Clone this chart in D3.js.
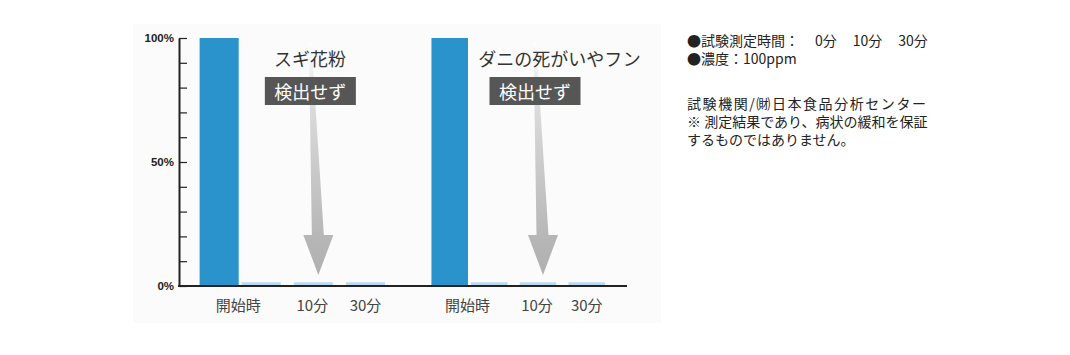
<!DOCTYPE html>
<html><head><meta charset="utf-8">
<script src="https://cdn.jsdelivr.net/npm/d3@7"></script>
<style>
html,body{margin:0;padding:0;background:#fff;}
svg{display:block;}
text{font-family:"Noto Sans CJK JP","Noto Sans",sans-serif;}
</style></head>
<body>
<script>
// ---- data ----
const groups = ["スギ花粉", "ダニの死がいやフン"];
const times = ["開始時", "10分", "30分"];
const startValues = [100, 100];                 // dark bar at start (before treatment)
const treatedValues = [[1.5, 1.5, 1.5], [1.5, 1.5, 1.5]]; // light bars at 0 / 10 / 30 min
const yTickValues = [0, 10, 20, 30, 40, 50, 60, 70, 80, 90, 100];
const yLabelValues = [0, 50, 100];
const badgeText = "検出せず";
const testTimes = ["0分", "10分", "30分"];
const noteHead1 = "●試験測定時間：";
const noteHead2 = "●濃度：100ppm";
const noteLines = ["試験機関/㈶日本食品分析センター", "※ 測定結果であり、病状の緩和を保証", "するものではありません。"];

// ---- layout ----
const W = 1070, H = 355;
const svg = d3.select("body").append("svg").attr("width", W).attr("height", H);

svg.append("rect").attr("x", 133).attr("y", 24).attr("width", 528).attr("height", 299).attr("fill", "#fbfbfb");

const y = d3.scaleLinear().domain([0, 100]).range([286, 38]);
const axisX = 179, axisRight = 627;
const groupRanges = [[241.7, 385], [471, 605]];
const titleDx = [-3.4, 21.5];
const darkColor = "#2a93cb", lightColor = "#b9daee";

const defs = svg.append("defs");
const grad = defs.append("linearGradient").attr("id", "arrowGrad")
  .attr("gradientUnits", "userSpaceOnUse").attr("x1", 0).attr("y1", 40).attr("x2", 0).attr("y2", 275);
grad.append("stop").attr("offset", 0).attr("stop-color", "#ffffff");
grad.append("stop").attr("offset", 0.3).attr("stop-color", "#dadada");
grad.append("stop").attr("offset", 0.85).attr("stop-color", "#b6b6b6");
grad.append("stop").attr("offset", 1).attr("stop-color", "#b0b0b0");

groups.forEach((g, gi) => {
  const xi = d3.scaleBand().domain(times).range(groupRanges[gi]).paddingInner(0.25).paddingOuter(0);
  const bw = xi.bandwidth();
  const darkX = xi(times[0]) - 3 - bw;
  const c10 = xi(times[1]) + bw / 2;
  const tipX = c10 + 5, tipY = y(0) - 11;

  // arrow
  const pts = [[-9.5, -233], [-7, -233], [5.5, -40], [15, -40], [0, 0], [-15, -40], [-6.5, -40]]
    .map(p => [tipX + p[0], tipY + p[1]]);
  svg.append("polygon").attr("points", pts.map(p => p.join(",")).join(" ")).attr("fill", "url(#arrowGrad)");

  // dark start bar
  svg.append("rect").attr("x", darkX).attr("y", y(startValues[gi])).attr("width", bw)
    .attr("height", y(0) - y(startValues[gi])).attr("fill", darkColor);
  // light bars
  svg.selectAll(null).data(treatedValues[gi]).enter().append("rect")
    .attr("x", (d, i) => xi(times[i])).attr("y", d => y(d)).attr("width", bw)
    .attr("height", d => y(0) - y(d)).attr("fill", lightColor);

  // x labels
  const labelX = [(darkX + xi(times[0]) + bw) / 2 - 2, c10 - 1, xi(times[2]) + bw / 2];
  svg.selectAll(null).data(times).enter().append("text")
    .attr("x", (d, i) => labelX[i]).attr("y", 304).attr("dominant-baseline", "central")
    .attr("text-anchor", "middle").attr("font-size", 15).attr("fill", "#444").text(d => d);

  // title
  svg.append("text").attr("x", c10 + titleDx[gi]).attr("y", 58).attr("dominant-baseline", "central")
    .attr("text-anchor", "middle").attr("font-size", 18).attr("fill", "#333").text(g);

  // badge
  const bx = c10 - 3;
  svg.append("rect").attr("x", bx - 45.5).attr("y", 77).attr("width", 91).attr("height", 28).attr("fill", "#565656");
  svg.append("text").attr("x", bx).attr("y", 91).attr("dominant-baseline", "central")
    .attr("text-anchor", "middle").attr("font-size", 18).attr("fill", "#fff").text(badgeText);
});

// y axis
const yAxis = d3.axisLeft(y).tickValues(yTickValues).tickSizeInner(-8).tickSizeOuter(0).tickPadding(5)
  .tickFormat(d => yLabelValues.includes(d) ? d + "%" : "");
const ya = svg.append("g").attr("transform", `translate(${axisX},0)`).call(yAxis);
ya.select(".domain").attr("stroke", "#222").attr("stroke-width", 2);
ya.selectAll(".tick line").attr("stroke", "#222").attr("stroke-width", 1.2);
ya.selectAll(".tick text").style("font-family", "Liberation Sans, Arial, sans-serif")
  .style("font-size", "11.5px").style("font-weight", "bold").attr("fill", "#222");

// x axis line
svg.append("line").attr("x1", axisX - 1).attr("x2", axisRight).attr("y1", y(0)).attr("y2", y(0))
  .attr("stroke", "#222").attr("stroke-width", 2);

// notes
const notes = svg.append("g").attr("font-size", 14).attr("fill", "#222");
const t1 = notes.append("text").attr("x", 687).attr("y", 40).attr("dominant-baseline", "central").text(noteHead1);
testTimes.forEach(t => t1.append("tspan").attr("dx", 16).text(t));
notes.append("text").attr("x", 687).attr("y", 58).attr("dominant-baseline", "central").text(noteHead2);
notes.selectAll(null).data(noteLines).enter().append("text")
  .attr("x", 687).attr("y", (d, i) => 103 + i * 18.2).attr("dominant-baseline", "central")
  .each(function(d, i) { if (i === 0) d3.select(this).attr("textLength", 239).attr("lengthAdjust", "spacing"); })
  .text(d => d);
</script>
</body></html>
